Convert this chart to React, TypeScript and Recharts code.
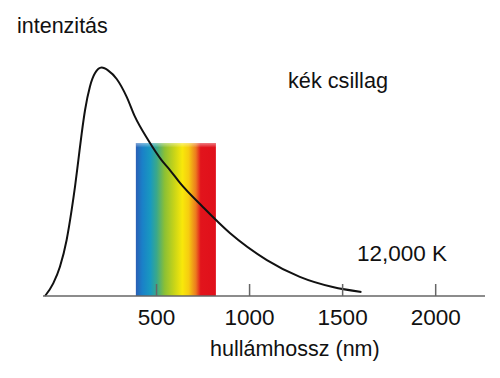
import { LineChart, Line, XAxis, YAxis, ReferenceArea } from "recharts";

// wavelength positions (nm, read along the drawn axis) and relative intensity
const wavelength = [-99, -55, -19, 17, 44, 62, 80, 98, 116, 142, 169, 205, 241, 286, 339, 384, 455, 527, 572, 626, 749, 894, 1093, 1270, 1447, 1601];
const intensity = [0, 5.1, 11.8, 22.6, 34.7, 44.1, 54.8, 65.6, 75, 84.4, 89.8, 92.1, 90.9, 87.5, 80.4, 72.3, 62.9, 54.8, 50.8, 45.6, 35.9, 25.4, 14.5, 7.7, 3.6, 1.6];
const xTicks = [500, 1000, 1500, 2000];
const visibleBand = [389, 819];
const bandTop = 61.7;

const data = wavelength.map((w, i) => ({ w, v: intensity[i] }));

const FONT = "'Liberation Sans', Arial, sans-serif";

const UpTick = ({ x, y, payload }: any) => (
  <g>
    <line x1={x} x2={x} y1={y} y2={y - 12} stroke="#666" strokeWidth={1.5} />
    <text x={x} y={y + 29} textAnchor="middle" fontFamily={FONT} fontSize={22.5} fill="#111">
      {payload.value}
    </text>
  </g>
);

export default function App() {
  return (
    <div style={{ position: "absolute", left: 0, top: 0, width: 500, height: 378, background: "#fff" }}>
      <LineChart width={500} height={378} data={data} margin={{ top: 48, right: 15, bottom: 52, left: 43 }}>
        <defs>
          <linearGradient id="spec" x1="0" y1="0" x2="1" y2="0">
            <stop offset="0%" stopColor="#2a5fb5" />
            <stop offset="8%" stopColor="#1a80c8" />
            <stop offset="18%" stopColor="#1899c0" />
            <stop offset="26%" stopColor="#3aa88a" />
            <stop offset="36%" stopColor="#8cc034" />
            <stop offset="48%" stopColor="#c8d418" />
            <stop offset="58%" stopColor="#f8e80a" />
            <stop offset="66%" stopColor="#f6cc10" />
            <stop offset="75%" stopColor="#ec7a1e" />
            <stop offset="81%" stopColor="#e2141c" />
            <stop offset="100%" stopColor="#e0101a" />
          </linearGradient>
          <linearGradient id="fadeTop" x1="0" y1="0" x2="0" y2="1">
            <stop offset="0%" stopColor="#fff" stopOpacity={0.45} />
            <stop offset="3%" stopColor="#fff" stopOpacity={0} />
          </linearGradient>
        </defs>
        <XAxis
          dataKey="w"
          type="number"
          domain={[-110, 2265]}
          ticks={xTicks}
          allowDataOverflow
          height={30}
          tickSize={0}
          tickMargin={0}
          tickLine={false}
          axisLine={{ stroke: "#666", strokeWidth: 1.5 }}
          tick={<UpTick />}
        />
        <YAxis
          type="number"
          domain={[0, 100]}
          width={0}
          tick={false}
          tickLine={false}
          axisLine={{ stroke: "#666", strokeWidth: 1.5 }}
        />
        <ReferenceArea
          x1={visibleBand[0]}
          x2={visibleBand[1]}
          y1={0}
          y2={bandTop}
          fill="url(#spec)"
          fillOpacity={1}
          stroke="none"
          ifOverflow="visible"
        />
        <ReferenceArea
          x1={visibleBand[0]}
          x2={visibleBand[1]}
          y1={0}
          y2={bandTop}
          fill="url(#fadeTop)"
          fillOpacity={1}
          stroke="none"
          ifOverflow="visible"
        />
        <Line
          dataKey="v"
          type="monotone"
          stroke="#111"
          strokeWidth={2}
          dot={false}
          isAnimationActive={false}
        />
      </LineChart>
      <svg width={500} height={378} style={{ position: "absolute", left: 0, top: 0, pointerEvents: "none" }}>
        <text x={17} y={33} fontFamily={FONT} fontSize={21.5} fill="#111">intenzitás</text>
        <text x={288} y={88} fontFamily={FONT} fontSize={21.7} fill="#111">kék csillag</text>
        <text x={357} y={261} fontFamily={FONT} fontSize={22.5} fill="#111">12,000 K</text>
        <text x={210} y={356} fontFamily={FONT} fontSize={21.5} fill="#111">hullámhossz (nm)</text>
      </svg>
    </div>
  );
}
